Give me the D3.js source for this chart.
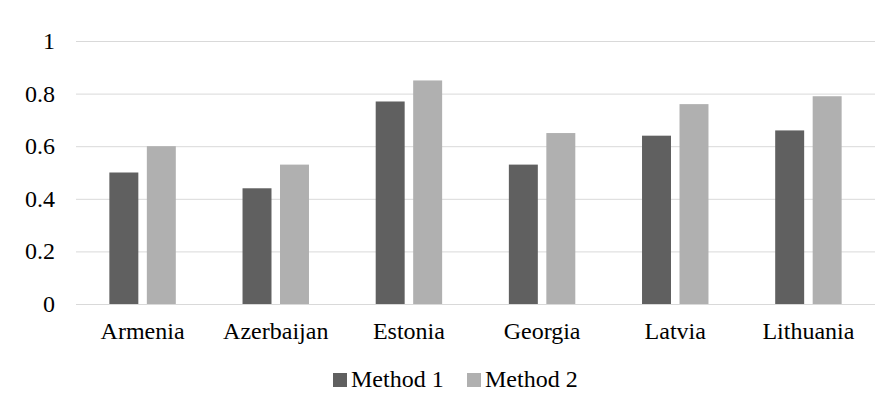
<!DOCTYPE html>
<html>
<head>
<meta charset="utf-8">
<script src="https://cdn.jsdelivr.net/npm/d3@7"></script>
<style>
  body { margin: 0; background: #fff; }
</style>
</head>
<body>
<div id="chart"></div>
<script>
// data
var countries = ["Armenia", "Azerbaijan", "Estonia", "Georgia", "Latvia", "Lithuania"];
var seriesNames = ["Method 1", "Method 2"];
var method1 = [0.50, 0.44, 0.77, 0.53, 0.64, 0.66];
var method2 = [0.60, 0.53, 0.85, 0.65, 0.76, 0.79];
var yTicks = [0, 0.2, 0.4, 0.6, 0.8, 1];
var colors = ["#606060", "#b0b0b0"];

var width = 891, height = 401;
var margin = {top: 41, right: 16, bottom: 97, left: 76};
var font = "'Times New Roman', 'Liberation Serif', 'DejaVu Serif', serif";

var svg = d3.select("#chart")
    .append("svg")
        .attr("width", width)
        .attr("height", height)
        .style("font-family", font);

var x0 = d3.scaleBand()
    .domain(countries)
    .range([margin.left, width - margin.right])
    .padding(0);

var x1 = d3.scaleBand()
    .domain(seriesNames)
    .range([0, x0.bandwidth()])
    .paddingInner(0.227)
    .paddingOuter(0.89);

var y = d3.scaleLinear()
    .domain([0, 1])
    .range([height - margin.bottom, margin.top]);

//gridlines
svg.append("g")
    .selectAll("line")
    .data(yTicks)
    .join("line")
        .attr("x1", margin.left)
        .attr("x2", width - margin.right)
        .attr("y1", d => y(d) + 0.5)
        .attr("y2", d => y(d) + 0.5)
        .attr("stroke", "#d9d9d9")
        .attr("stroke-width", 1);

//y tick labels
svg.append("g")
    .selectAll("text")
    .data(yTicks)
    .join("text")
        .attr("x", 55)
        .attr("y", d => y(d))
        .attr("dy", "0.33em")
        .style("text-anchor", "end")
        .style("font-size", "24px")
        .text(d => d3.format("~g")(d));

//bars
var rows = countries.map((c, i) => ({country: c, values: [method1[i], method2[i]]}));

var groups = svg.append("g")
    .selectAll("g")
    .data(rows)
    .join("g")
        .attr("transform", d => "translate(" + x0(d.country) + ",0)");

groups.selectAll("rect")
    .data(d => d.values.map((v, j) => ({name: seriesNames[j], value: v, j: j})))
    .join("rect")
        .attr("x", d => x1(d.name))
        .attr("y", d => y(d.value))
        .attr("width", x1.bandwidth())
        .attr("height", d => y(0) - y(d.value))
        .style("fill", d => colors[d.j]);

//category labels
svg.append("g")
    .selectAll("text")
    .data(countries)
    .join("text")
        .attr("x", d => x0(d) + x0.bandwidth() / 2)
        .attr("y", 339)
        .style("text-anchor", "middle")
        .style("font-size", "24px")
        .text(d => d);

//legend
var legendX = [333, 467];
var legend = svg.append("g")
    .selectAll("g")
    .data(seriesNames)
    .join("g")
        .attr("transform", (d, i) => "translate(" + legendX[i] + ",373)");
legend.append("rect")
    .attr("width", 14)
    .attr("height", 14)
    .style("fill", (d, i) => colors[i]);
legend.append("text")
    .attr("x", 18)
    .attr("y", 14)
    .style("font-size", "24px")
    .text(d => d);
</script>
</body>
</html>
